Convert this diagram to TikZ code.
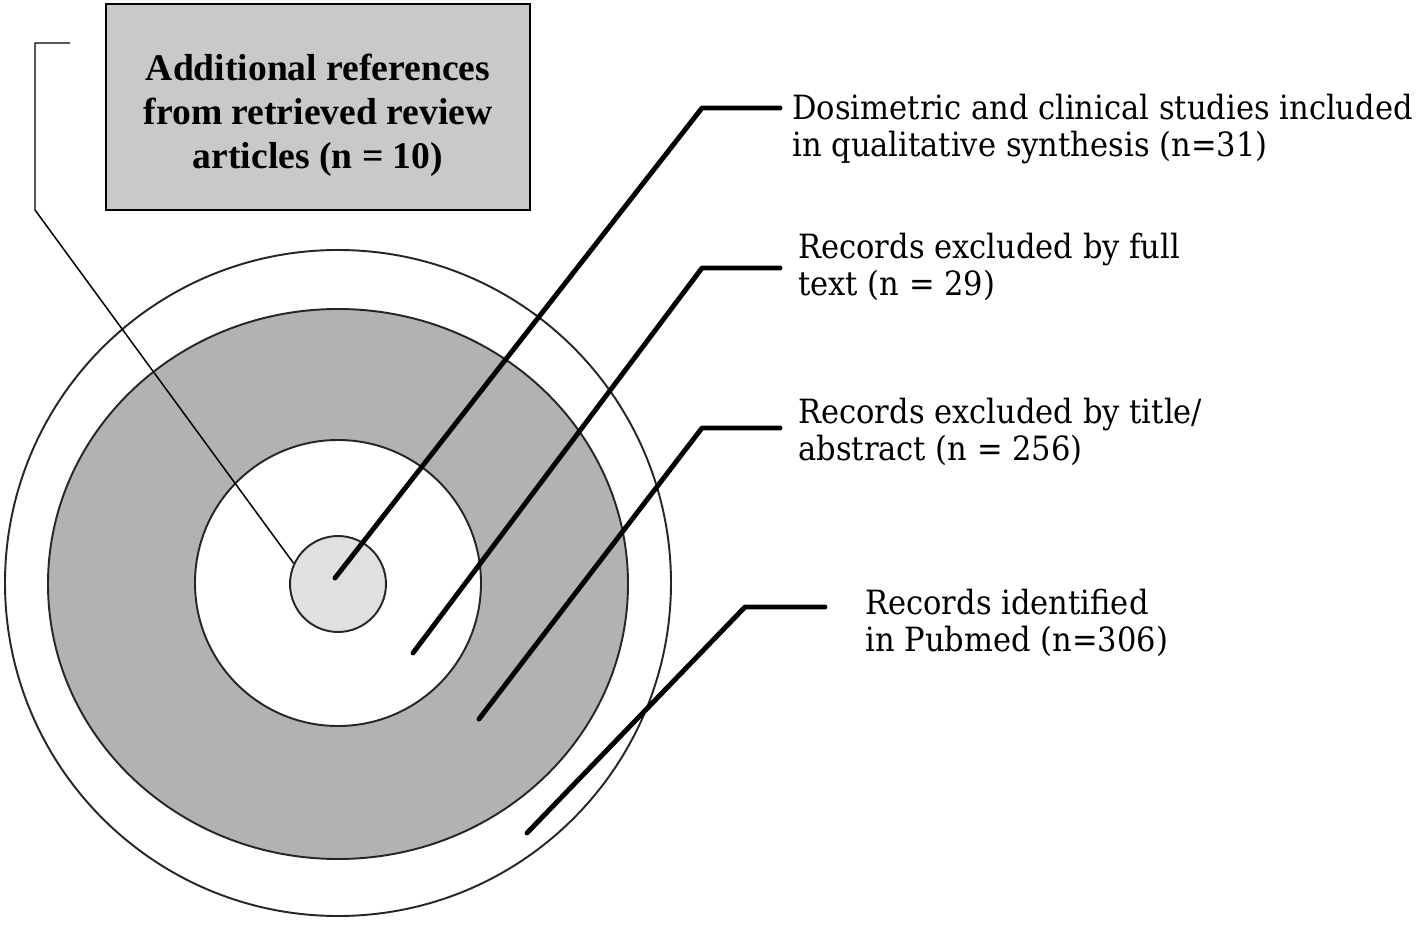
\documentclass[tikz,border=0pt]{standalone}
\usepackage{fontspec}
\setmainfont{Liberation Serif}
\newfontfamily\labelfont{DejaVu Serif}[FakeStretch=0.915]
\usetikzlibrary{positioning}

\definecolor{boxgray}{gray}{0.79}
\definecolor{ringgray}{gray}{0.70}
\definecolor{coregray}{gray}{0.88}

\tikzset{
  ring/.style={draw=black!85,line width=1.1pt},
  leader/.style={line width=2.8pt,line cap=round,line join=round},
  thinlead/.style={line width=0.85pt},
  lbltext/.style={anchor=north west,inner sep=0pt,align=left,
    font=\labelfont\fontsize{19}{21}\selectfont},
}

\begin{document}
\begin{tikzpicture}[x=0.02cm,y=-0.02cm]
    \useasboundingbox (0,0) rectangle (1418,929);

    % Box of extra references
    \node[draw,line width=1.1pt,fill=boxgray,minimum width=8.48cm,minimum height=4.12cm,
          align=center,font=\bfseries\fontsize{21.4}{25}\selectfont] (extra) at (318,107)
        {\rule{0pt}{0.87cm}Additional references\\from retrieved review\\articles (n = 10)};

    % Nested circles
    \draw[ring,fill=white] (338,583) circle [radius=333];
    \draw[ring,fill=ringgray] (338,584) ellipse [x radius=290, y radius=275];
    \draw[ring,fill=white] (338,583) circle [radius=143];
    \node[ring,circle,fill=coregray,minimum size=1.92cm,inner sep=0pt] (core) at (338,584) {};

    % Labels
    \node[lbltext] (included) at (792,94) {Dosimetric and clinical studies included\\in qualitative synthesis (n=31)};
    \node[lbltext] (fulltext) at (798,233) {Records excluded by full\\text (n = 29)};
    \node[lbltext] (abstract) at (798,398) {Records excluded by title/\\abstract (n = 256)};
    \node[lbltext] (pubmed) at (865,589) {Records identified\\in Pubmed (n=306)};

    % Leader points
    \coordinate (t2) at (413,653);
    \coordinate (t3) at (479,719);
    \coordinate (t4) at (527,833);
    \coordinate (k1) at (702,108);
    \coordinate (k2) at (702,268);
    \coordinate (k3) at (702,428);
    \coordinate (k4) at (745,607);
    \coordinate (e1) at (780,108);
    \coordinate (e2) at (780,268);
    \coordinate (e3) at (780,428);
    \coordinate (e4) at (825,607);
    \coordinate (f0) at (70,43);

    % Thin leader from the box
    \draw[thinlead] (f0) -- (35,43) -- (35,210) -- (core.155);

    % Thick leaders
    \draw[leader] (core.center) ++(-3,-6) -- (k1) -- (e1);
    \draw[leader] (t2) -- (k2) -- (e2);
    \draw[leader] (t3) -- (k3) -- (e3);
    \draw[leader] (t4) -- (k4) -- (e4);
\end{tikzpicture}
\end{document}
